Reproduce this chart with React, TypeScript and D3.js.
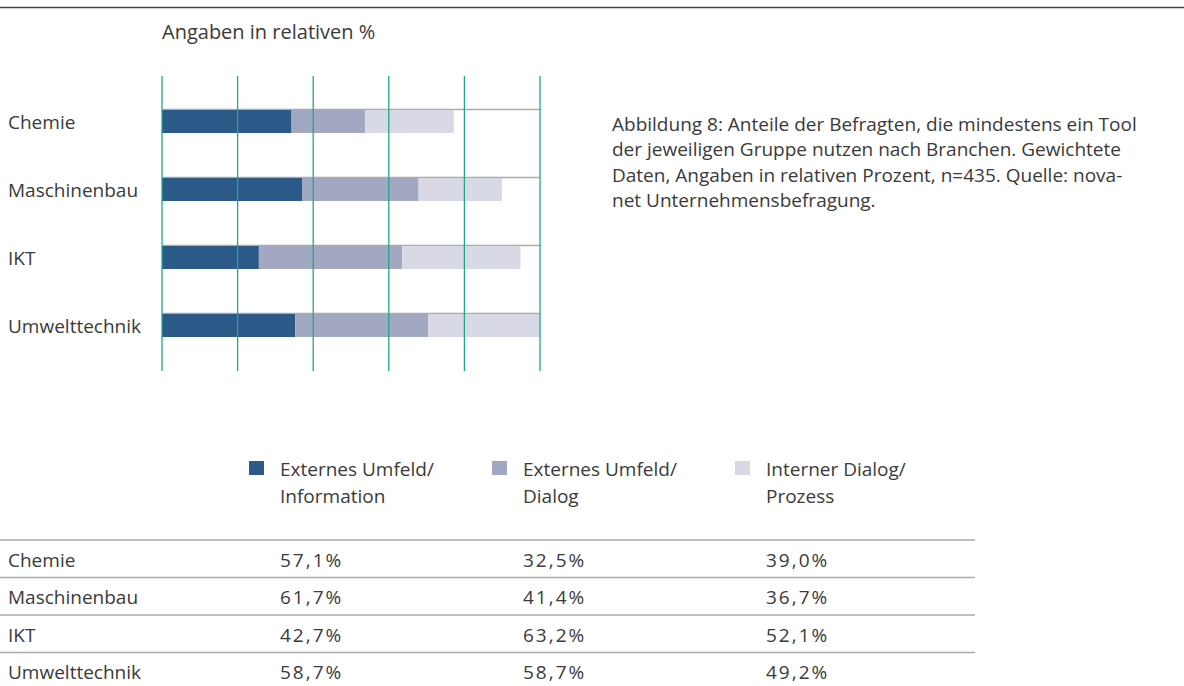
import React from "react";
import * as d3 from "d3";

const categories = ["Chemie", "Maschinenbau", "IKT", "Umwelttechnik"];
const seriesNames = [
  ["Externes Umfeld/", "Information"],
  ["Externes Umfeld/", "Dialog"],
  ["Interner Dialog/", "Prozess"],
];
// values as printed in the table
const externInfo = [57.1, 61.7, 42.7, 58.7];
const externDialog = [32.5, 41.4, 63.2, 58.7];
const internDialog = [39.0, 36.7, 52.1, 49.2];
// the bar for Maschinenbau / Dialog is drawn longer than the table says
const externDialogBars = [32.5, 51.4, 63.2, 58.7];
const colors = ["#2c5a88", "#a3a8c2", "#d9d9e5"];

const caption = [
  "Abbildung 8: Anteile der Befragten, die mindestens ein Tool",
  "der jeweiligen Gruppe nutzen nach Branchen. Gewichtete",
  "Daten, Angaben in relativen Prozent, n=435. Quelle: nova-",
  "net Unternehmensbefragung.",
];

const W = 1184;
const H = 686;
const font = "'Open Sans', 'Noto Sans', sans-serif";
const textColor = "#3a3a3a";
const fs = 19;

const rows = categories.map((c, i) => ({
  cat: c,
  a: externInfo[i],
  b: externDialogBars[i],
  c: internDialog[i],
}));

const fmt = d3
  .formatLocale({ decimal: ",", thousands: ".", grouping: [3], currency: ["", "€"] })
  .format(".1f");

const App = () => {
  const stack = d3.stack<any>().keys(["a", "b", "c"])(rows);
  const maxTotal = d3.max(rows, (d) => d.a + d.b + d.c) as number;

  const x = d3.scaleLinear().domain([0, maxTotal]).range([162, 540]);
  const y = d3.scaleBand().domain(categories).range([110, 337]).paddingInner(45 / 68).paddingOuter(0);
  const gridVals = d3.range(6).map((i) => (maxTotal * i) / 5);

  const legendX = [249, 492, 735];
  const tableY = d3.scaleBand().domain(categories).range([540, 690]);

  return (
    <svg width={W} height={H} style={{ position: "absolute", left: 0, top: 0, display: "block" }} fontFamily={font}>
      <rect width={W} height={H} fill="#fff" />
      <line x1={0} x2={W} y1={7.5} y2={7.5} stroke="#444" strokeWidth={1.5} />
      <text x={162} y={39} fontSize={20} fill={textColor}>Angaben in relativen %</text>

      {categories.map((c) => (
        <g key={c}>
          <line x1={x(0)} x2={x(maxTotal)} y1={(y(c) as number) - 0.5} y2={(y(c) as number) - 0.5} stroke="#aaa" strokeWidth={1.5} />
          <text x={8} y={(y(c) as number) + y.bandwidth() / 2 + 7} fontSize={fs} fill={textColor}>{c}</text>
        </g>
      ))}

      {stack.map((s, si) => (
        <g key={si} fill={colors[si]}>
          {s.map((d, i) => (
            <rect
              key={i}
              x={x(d[0])}
              width={x(d[1]) - x(d[0])}
              y={y(categories[i])}
              height={y.bandwidth()}
            />
          ))}
        </g>
      ))}

      {gridVals.map((v, i) => (
        <line key={i} x1={x(v)} x2={x(v)} y1={76} y2={371} stroke="#1ca98a" strokeWidth={1.3} />
      ))}

      {caption.map((t, i) => (
        <text key={i} x={612} y={130.5 + i * 25.5} fontSize={fs} fill={textColor}>{t}</text>
      ))}

      {seriesNames.map((lines, i) => (
        <g key={i}>
          <rect x={legendX[i]} y={461} width={15} height={14} fill={colors[i]} />
          {lines.map((t, j) => (
            <text key={j} x={legendX[i] + 31} y={476 + j * 27} fontSize={fs} fill={textColor}>{t}</text>
          ))}
        </g>
      ))}

      {categories.map((c, i) => {
        const ty = tableY(c) as number;
        const vals = [externInfo[i], externDialog[i], internDialog[i]];
        return (
          <g key={c}>
            <line x1={0} x2={975} y1={ty} y2={ty} stroke="#aaa" strokeWidth={1.5} />
            <text x={8} y={ty + 26.5} fontSize={fs} fill={textColor}>{c}</text>
            {vals.map((v, j) => (
              <text key={j} x={legendX[j] + 31} y={ty + 26.5} fontSize={fs} letterSpacing={2} fill={textColor}>{fmt(v)}%</text>
            ))}
          </g>
        );
      })}
    </svg>
  );
};

export default App;
